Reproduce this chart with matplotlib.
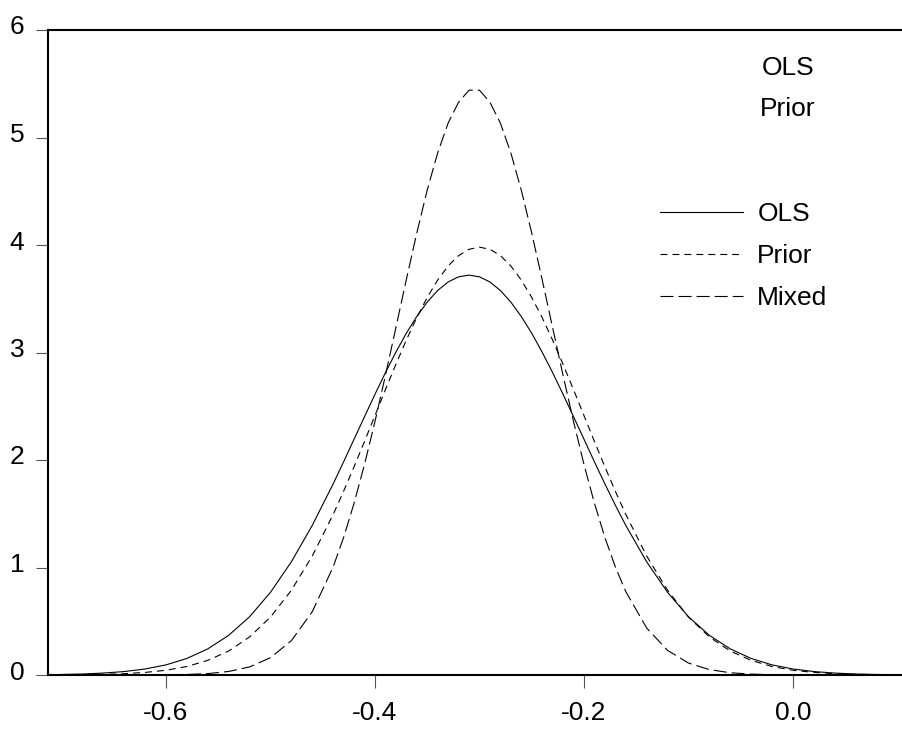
import numpy as np
import matplotlib
matplotlib.use("Agg")
import matplotlib.pyplot as plt
import matplotlib.transforms as mtransforms

plt.rcParams['font.family'] = ['Liberation Sans', 'DejaVu Sans']
plt.rcParams['axes.unicode_minus'] = False
plt.rcParams['lines.scale_dashes'] = False

# density values (finer steps around the peaks)
x = [-0.70, -0.68, -0.66, -0.64, -0.62, -0.60, -0.58, -0.56, -0.54, -0.52,
     -0.50, -0.48, -0.46,
     -0.44, -0.43, -0.42, -0.41, -0.40, -0.39, -0.38, -0.37, -0.36, -0.35,
     -0.34, -0.33, -0.32, -0.31, -0.30, -0.29, -0.28, -0.27, -0.26, -0.25,
     -0.24, -0.23, -0.22, -0.21, -0.20, -0.19, -0.18, -0.17, -0.16,
     -0.14, -0.12, -0.10, -0.08, -0.06, -0.04, -0.02, 0.00, 0.02, 0.04,
     0.06, 0.08, 0.10]

ols = [0.005, 0.009, 0.018, 0.032, 0.056, 0.094, 0.154, 0.243, 0.369, 0.542,
       0.769, 1.053, 1.392,
       1.778, 1.983, 2.194, 2.403, 2.611, 2.813, 3.003, 3.179, 3.335, 3.469,
       3.577, 3.656, 3.704, 3.720, 3.704, 3.656, 3.577, 3.469, 3.335, 3.179,
       3.003, 2.813, 2.611, 2.403, 2.194, 1.983, 1.778, 1.580, 1.392,
       1.053, 0.769, 0.542, 0.369, 0.243, 0.154, 0.094, 0.056, 0.032, 0.018,
       0.009, 0.005, 0.002]

prior = [0.001, 0.003, 0.006, 0.012, 0.024, 0.044, 0.079, 0.136, 0.223, 0.354,
         0.539, 0.788, 1.107,
         1.494, 1.710, 1.937, 2.173, 2.414, 2.654, 2.890, 3.115, 3.325, 3.512,
         3.674, 3.805, 3.901, 3.960, 3.980, 3.960, 3.901, 3.805, 3.674, 3.512,
         3.325, 3.115, 2.890, 2.654, 2.414, 2.173, 1.937, 1.710, 1.494,
         1.107, 0.788, 0.539, 0.354, 0.223, 0.136, 0.079, 0.044, 0.024, 0.012,
         0.006, 0.003, 0.001]

mixed = [0.000, 0.000, 0.000, 0.000, 0.001, 0.002, 0.005, 0.013, 0.033, 0.075,
         0.161, 0.319, 0.589,
         1.006, 1.280, 1.598, 1.959, 2.358, 2.787, 3.231, 3.678, 4.111, 4.511,
         4.857, 5.134, 5.328, 5.440, 5.440, 5.328, 5.134, 4.857, 4.511, 4.111,
         3.678, 3.231, 2.787, 2.358, 1.959, 1.598, 1.280, 1.006, 0.776,
         0.437, 0.229, 0.111, 0.050, 0.021, 0.008, 0.003, 0.001, 0.000, 0.000,
         0.000, 0.000, 0.000]

xticks = [-0.6, -0.4, -0.2, 0.0]
xtick_labels = ['-0.6', '-0.4', '-0.2', '0.0']
yticks = [0, 1, 2, 3, 4, 5, 6]

fig = plt.figure(figsize=(9.03, 7.29), dpi=100)
ax = fig.add_axes([48 / 903, 1 - 675 / 729, 1 - 48 / 903, (675 - 30) / 729])

ax.plot(x, ols, color='black', lw=0.8, label='OLS')
ax.plot(x, prior, color='black', lw=0.8, dashes=(5, 3.6), label='Prior')
ax.plot(x, mixed, color='black', lw=0.8, dashes=(9.4, 3.6), label='Mixed')

ax.set_xlim(-0.7129, 0.1053)
ax.set_ylim(0, 6)

ax.spines['right'].set_visible(False)
for s in ['left', 'top', 'bottom']:
    ax.spines[s].set_linewidth(1.5)

ax.set_xticks(xticks)
ax.set_xticklabels(xtick_labels)
ax.set_yticks(yticks)
ax.tick_params(axis='both', direction='out', length=9, width=0.8, color='#555555',
               labelsize=19)
ax.tick_params(axis='x', pad=10)
ax.tick_params(axis='y', pad=8)

# y labels sit a little above their ticks
shift = mtransforms.ScaledTranslation(0, 0.05, fig.dpi_scale_trans)
for lab in ax.get_yticklabels():
    lab.set_transform(lab.get_transform() + shift)

leg = ax.legend(loc='upper left', bbox_to_anchor=(0.704, 0.7496), frameon=False,
                fontsize=19, handlelength=3.14, handletextpad=0.53, labelspacing=0.68,
                borderaxespad=0)

ax.text(0.865, 0.941, 'OLS', transform=ax.transAxes, ha='center', va='center', fontsize=19)
ax.text(0.865, 0.878, 'Prior', transform=ax.transAxes, ha='center', va='center', fontsize=19)

fig.savefig('out.png', dpi=100)
